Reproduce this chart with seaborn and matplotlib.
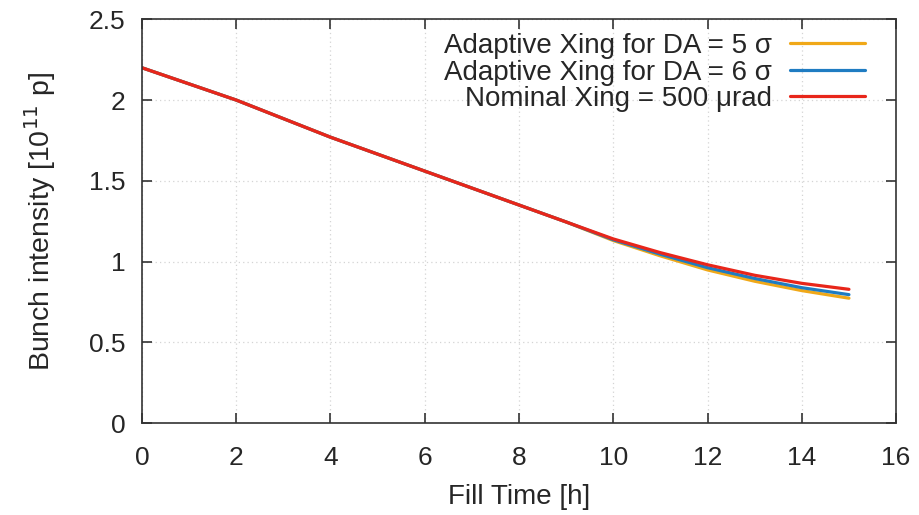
import numpy as np
import pandas as pd
import seaborn as sns
import matplotlib.pyplot as plt

# fill time in hours
hours = [0, 1, 2, 3, 4, 5, 6, 7, 8, 9, 10, 11, 12, 13, 14, 15]

# bunch intensity [1e11 p]
da5 = [2.20, 2.10, 2.00, 1.885, 1.77, 1.665, 1.56, 1.455, 1.35, 1.245,
       1.13, 1.035, 0.948, 0.878, 0.82, 0.773]
da6 = [2.20, 2.10, 2.00, 1.885, 1.77, 1.665, 1.56, 1.455, 1.35, 1.245,
       1.135, 1.045, 0.962, 0.895, 0.838, 0.795]
nominal = [2.20, 2.10, 2.00, 1.885, 1.77, 1.665, 1.56, 1.455, 1.35, 1.245,
           1.14, 1.055, 0.98, 0.915, 0.865, 0.828]

labels = ["Adaptive Xing for DA = 5 σ",
          "Adaptive Xing for DA = 6 σ",
          "Nominal Xing = 500 μrad"]
colors = ["#f0a818", "#1f7cc2", "#e8261a"]

df = pd.DataFrame({
    "time": hours * 3,
    "intensity": da5 + da6 + nominal,
    "case": [labels[0]] * len(hours) + [labels[1]] * len(hours) + [labels[2]] * len(hours),
})

sns.set_style("ticks")
plt.rcParams["font.family"] = ["Liberation Sans", "DejaVu Sans"]

fig, ax = plt.subplots(figsize=(9.2, 5.15), dpi=100)
fig.subplots_adjust(left=0.1543, right=0.974, top=0.9625, bottom=0.1786)

sns.lineplot(data=df, x="time", y="intensity", hue="case", hue_order=labels,
             palette=colors, linewidth=2.3, ax=ax)

ax.set_xlim(0, 16)
ax.set_ylim(0, 2.5)
ax.set_xticks(np.arange(0, 17, 2))
ax.set_yticks([0, 0.5, 1, 1.5, 2, 2.5])
ax.set_yticklabels(["0", "0.5", "1", "1.5", "2", "2.5"])

ax.grid(True, color="#d4d4d4", linestyle=(0, (1, 2.5)), linewidth=0.9)
for s in ax.spines.values():
    s.set_color("#333333")
    s.set_linewidth(1.2)
ax.tick_params(direction="in", length=7, width=1.2, color="#333333",
               top=True, right=True, labelsize=19)
ax.tick_params(axis="x", pad=16.5)
ax.tick_params(axis="y", pad=12)

ax.set_xlabel("Fill Time [h]", fontsize=20, labelpad=10)
ax.set_ylabel("Bunch intensity [10$^{11}$ p]", fontsize=20.5, labelpad=22)

leg = ax.legend(loc="upper right", bbox_to_anchor=(0.959, 0.966), frameon=False,
                markerfirst=False, fontsize=20, handlelength=2.7,
                handletextpad=0.65, labelspacing=0.02, borderpad=0, borderaxespad=0)

plt.savefig("out.png", dpi=100)
